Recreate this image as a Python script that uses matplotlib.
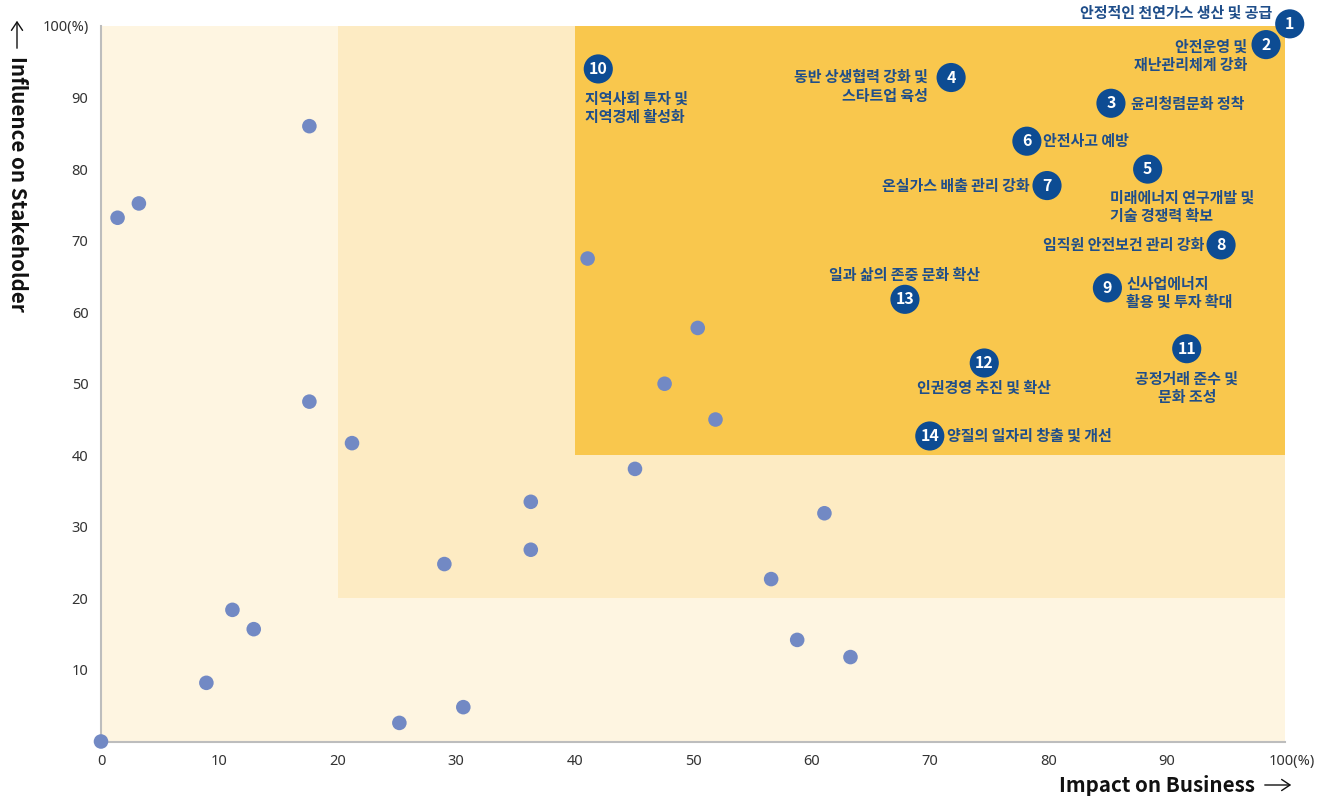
import matplotlib
matplotlib.use("Agg")
import matplotlib.pyplot as plt
import matplotlib.transforms as mtransforms
from matplotlib.patches import Rectangle

plt.rcParams['font.family'] = ['Noto Sans CJK KR', 'DejaVu Sans']

# ---- data ----
dot_x = [0, 1.4, 3.2, 17.6, 17.6, 21.2, 11.1, 12.9, 8.9, 25.2, 30.6, 29.0, 36.3, 36.3,
         41.1, 45.1, 47.6, 50.4, 51.9, 61.1, 56.6, 58.8, 63.3]
dot_y = [0, 73.2, 75.2, 86.0, 47.5, 41.7, 18.4, 15.7, 8.2, 2.6, 4.8, 24.8, 33.5, 26.8,
         67.5, 38.1, 50.0, 57.8, 45.0, 31.9, 22.7, 14.2, 11.8]

issue_ids = [1, 2, 3, 4, 5, 6, 7, 8, 9, 10, 11, 12, 13, 14]
issue_x = [100.4, 98.4, 85.3, 71.8, 88.4, 78.2, 79.9, 94.6, 85.0, 42.0, 91.7, 74.6, 67.9, 70.0]
issue_y = [100.3, 97.4, 89.2, 92.8, 80.0, 83.9, 77.7, 69.4, 63.4, 94.0, 54.9, 52.9, 61.8, 42.7]
issue_labels = [
    "안정적인 천연가스 생산 및 공급",
    "안전운영 및\n재난관리체계 강화",
    "윤리청렴문화 정착",
    "동반 상생협력 강화 및\n스타트업 육성",
    "미래에너지 연구개발 및\n기술 경쟁력 확보",
    "안전사고 예방",
    "온실가스 배출 관리 강화",
    "임직원 안전보건 관리 강화",
    "신사업에너지\n활용 및 투자 확대",
    "지역사회 투자 및\n지역경제 활성화",
    "공정거래 준수 및\n문화 조성",
    "인권경영 추진 및 확산",
    "일과 삶의 존중 문화 확산",
    "양질의 일자리 창출 및 개선",
]
# label placement: (dx px, dy px, ha)
label_pos = [(-17, 11, 'right'), (-19, -11, 'right'), (20, -1, 'left'), (-23, -9, 'right'),
             (-38, -38, 'left'), (16, 0, 'left'), (-17, 0, 'right'), (-17, 0, 'right'),
             (19, -5, 'left'), (-13, -39, 'left'), (0, -39, 'center'), (0, -25, 'center'),
             (0, 24, 'center'), (17, 0, 'left')]

x_ticks = [0, 10, 20, 30, 40, 50, 60, 70, 80, 90, 100]
x_ticklabels = ["0", "10", "20", "30", "40", "50", "60", "70", "80", "90", "100(%)"]
y_ticks = [10, 20, 30, 40, 50, 60, 70, 80, 90, 100]
y_ticklabels = ["10", "20", "30", "40", "50", "60", "70", "80", "90", "100(%)"]

W, H = 1328, 799
fig = plt.figure(figsize=(W / 100, H / 100), dpi=100)
ax = fig.add_axes([101 / W, 1 - 741.5 / H, (1285 - 101) / W, (741.5 - 26) / H])
ax.set_xlim(0, 100)
ax.set_ylim(0, 100)

# zones
ax.add_patch(Rectangle((0, 0), 100, 100, facecolor='#FEF5E1', edgecolor='none', zorder=0))
ax.add_patch(Rectangle((20, 20), 80, 80, facecolor='#FDEBC3', edgecolor='none', zorder=0.1))
ax.add_patch(Rectangle((40, 40), 60, 60, facecolor='#F9C74D', edgecolor='none', zorder=0.2))

ax.scatter(dot_x, dot_y, s=110, color='#7289C4', edgecolor='none', zorder=3, clip_on=False)

blue = '#0D4C93'
ax.scatter(issue_x, issue_y, s=440, color=blue, edgecolor='none', zorder=4, clip_on=False)
for i, (n, x, y) in enumerate(zip(issue_ids, issue_x, issue_y)):
    ax.text(x, y, str(n), color='white', fontsize=11.5, fontweight='bold', ha='center',
            va='center', zorder=5, clip_on=False)
    dx, dy, ha = label_pos[i]
    ax.annotate(issue_labels[i], (x, y), xytext=(dx, dy), textcoords='offset pixels',
                ha=ha, va='center', multialignment=ha, fontsize=10.8, color='#1F4E8A',
                fontweight='bold', linespacing=1.2, zorder=5, annotation_clip=False)

for s in ['top', 'right']:
    ax.spines[s].set_visible(False)
for s in ['left', 'bottom']:
    ax.spines[s].set_color('#BDBDBD')
    ax.spines[s].set_linewidth(1.5)
    ax.spines[s].set_zorder(2)

ax.set_xticks(x_ticks)
ax.set_xticklabels(x_ticklabels)
ax.set_yticks(y_ticks)
ax.set_yticklabels(y_ticklabels)
ax.tick_params(length=0, labelsize=10.5, labelcolor='#333333', pad=9)
for lab in ax.get_xticklabels():
    lab.set_family(['Noto Sans', 'DejaVu Sans'])
for lab in ax.get_yticklabels():
    lab.set_family(['Noto Sans', 'DejaVu Sans'])
xl = ax.get_xticklabels()[-1]
xl.set_transform(xl.get_transform() + mtransforms.ScaledTranslation(7 / 100, 0, fig.dpi_scale_trans))

# axis titles
fig.text(1255 / W, 1 - 785 / H, "Impact on Business", ha='right', va='center',
         fontsize=14.8, fontweight='bold', color='#111111')
fig.text(17 / W, 1 - 184 / H, "Influence on Stakeholder", ha='center', va='center',
         rotation=-90, fontsize=14.8, fontweight='bold', color='#111111')
# arrows
fig.add_artist(matplotlib.patches.FancyArrowPatch((1262 / W, 1 - 785 / H), (1294 / W, 1 - 785 / H),
               transform=fig.transFigure, arrowstyle='->,head_length=6,head_width=4',
               mutation_scale=1, lw=1.0, color='#111111'))
fig.add_artist(matplotlib.patches.FancyArrowPatch((17 / W, 1 - 51 / H), (17 / W, 1 - 18 / H),
               transform=fig.transFigure, arrowstyle='->,head_length=6,head_width=4',
               mutation_scale=1, lw=1.0, color='#111111'))

fig.savefig('out.png', dpi=100)
